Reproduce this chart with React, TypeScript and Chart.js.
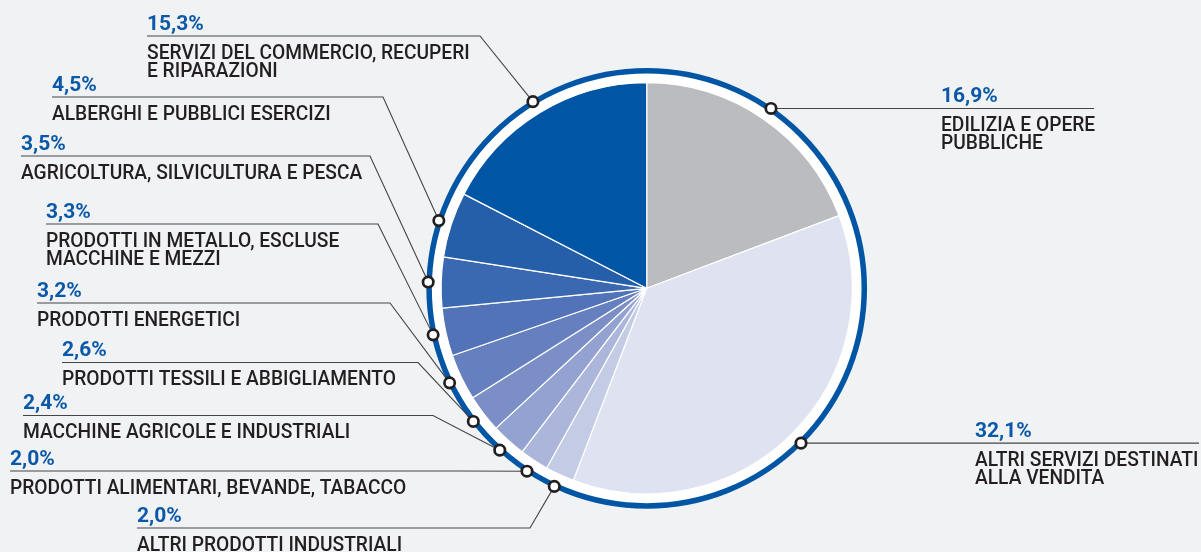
import React, { useEffect, useRef } from "react";
import { Chart, registerables } from "chart.js";

Chart.register(...registerables);

// ---- data (clockwise from 12 o'clock) ----
const categories: string[][] = [
  ["EDILIZIA E OPERE", "PUBBLICHE"],
  ["ALTRI SERVIZI DESTINATI", "ALLA VENDITA"],
  ["ALTRI PRODOTTI INDUSTRIALI"],
  ["PRODOTTI ALIMENTARI, BEVANDE, TABACCO"],
  ["MACCHINE AGRICOLE E INDUSTRIALI"],
  ["PRODOTTI TESSILI E ABBIGLIAMENTO"],
  ["PRODOTTI ENERGETICI"],
  ["PRODOTTI IN METALLO, ESCLUSE", "MACCHINE E MEZZI"],
  ["AGRICOLTURA, SILVICULTURA E PESCA"],
  ["ALBERGHI E PUBBLICI ESERCIZI"],
  ["SERVIZI DEL COMMERCIO, RECUPERI", "E RIPARAZIONI"],
];
const shares: number[] = [16.9, 32.1, 2.0, 2.0, 2.4, 2.6, 3.2, 3.3, 3.5, 4.5, 15.3];
const shareLabels: string[] = ["16,9%", "32,1%", "2,0%", "2,0%", "2,4%", "2,6%", "3,2%", "3,3%", "3,5%", "4,5%", "15,3%"];

// ---- styles ----
const sliceColors = [
  "#bbbcbf",
  "#dfe3f1",
  "#c4cbe5",
  "#abb6da",
  "#93a2d0",
  "#7b8fc6",
  "#6680bf",
  "#5273b8",
  "#3a69b1",
  "#255ea9",
  "#0055a4",
];
const BG = "#f1f2f4";
const RING = "#0055a4";
const INK = "#231f20";
const PCT = "#0a58a8";
const LINE = "#444444";

// ---- label layout (positions of annotation blocks) ----
type Lay = { side: "left" | "right"; textX: number; lineY?: number; elbowX?: number; endX?: number };
const labelLayout: Lay[] = [
  { side: "right", textX: 941, endX: 1094 },
  { side: "right", textX: 975, endX: 1199 },
  { side: "left", textX: 137, lineY: 528, elbowX: 530 },
  { side: "left", textX: 10, lineY: 471, elbowX: 457 },
  { side: "left", textX: 23, lineY: 415.5, elbowX: 433 },
  { side: "left", textX: 62, lineY: 362.5, elbowX: 418 },
  { side: "left", textX: 37, lineY: 303, elbowX: 390 },
  { side: "left", textX: 46, lineY: 224, elbowX: 378 },
  { side: "left", textX: 21, lineY: 156, elbowX: 370 },
  { side: "left", textX: 52, lineY: 97, elbowX: 383 },
  { side: "left", textX: 147, lineY: 36, elbowX: 480 },
];

const LABEL_FONT = "500 20px Roboto";
const LABEL_SX = 0.96;
const PCT_FONT = "700 21px Roboto";
const PCT_SX = 1.0;

function drawText(ctx: CanvasRenderingContext2D, s: string, x: number, y: number, font: string, color: string, sx: number) {
  ctx.save();
  ctx.font = font;
  ctx.fillStyle = color;
  ctx.textBaseline = "alphabetic";
  ctx.textAlign = "left";
  ctx.translate(x, y);
  ctx.scale(sx, 1);
  ctx.fillText(s, 0, 0);
  ctx.restore();
}

const decor = {
  id: "decor",
  beforeDraw(chart: any) {
    const ctx = chart.ctx as CanvasRenderingContext2D;
    ctx.save();
    ctx.fillStyle = BG;
    ctx.fillRect(0, 0, chart.width, chart.height);
    ctx.restore();
  },
  beforeDatasetsDraw(chart: any) {
    const ctx = chart.ctx as CanvasRenderingContext2D;
    const a = chart.getDatasetMeta(0).data[0] as any;
    ctx.save();
    ctx.beginPath();
    ctx.arc(a.x, a.y, a.outerRadius + 9.5, 0, Math.PI * 2);
    ctx.fillStyle = "#ffffff";
    ctx.fill();
    ctx.restore();
  },
  afterDatasetsDraw(chart: any) {
    const ctx = chart.ctx as CanvasRenderingContext2D;
    const arcs = chart.getDatasetMeta(0).data as any[];
    const cx = arcs[0].x;
    const cy = arcs[0].y;
    const R = arcs[0].outerRadius;
    const ringR = R + 12;

    ctx.save();
    ctx.beginPath();
    ctx.arc(cx, cy, ringR, 0, Math.PI * 2);
    ctx.strokeStyle = RING;
    ctx.lineWidth = 5.5;
    ctx.stroke();

    const markers: { x: number; y: number }[] = [];
    arcs.forEach((arc: any, i: number) => {
      const mid = (arc.startAngle + arc.endAngle) / 2;
      const mx = cx + Math.cos(mid) * (ringR + 1);
      const my = cy + Math.sin(mid) * (ringR + 1);
      markers.push({ x: mx, y: my });
      const lay = labelLayout[i];
      ctx.beginPath();
      ctx.strokeStyle = LINE;
      ctx.lineWidth = 1.1;
      let lineY: number;
      if (lay.side === "right") {
        lineY = my;
        ctx.moveTo(mx, my);
        ctx.lineTo(lay.endX as number, my);
      } else {
        lineY = lay.lineY as number;
        ctx.moveTo(lay.textX, lineY);
        ctx.lineTo(lay.elbowX as number, lineY);
        ctx.lineTo(mx, my);
      }
      ctx.stroke();

      drawText(ctx, shareLabels[i], lay.textX, lineY - 6.5, PCT_FONT, PCT, PCT_SX);
      categories[i].forEach((ln, k) => {
        drawText(ctx, ln, lay.textX, lineY + 22.5 + k * 18, LABEL_FONT, INK, LABEL_SX);
      });
    });

    markers.forEach((m) => {
      ctx.beginPath();
      ctx.arc(m.x, m.y, 5.2, 0, Math.PI * 2);
      ctx.fillStyle = "#ffffff";
      ctx.fill();
      ctx.lineWidth = 2.7;
      ctx.strokeStyle = INK;
      ctx.stroke();
    });
    ctx.restore();
  },
};

export default function App() {
  const ref = useRef<HTMLCanvasElement | null>(null);
  useEffect(() => {
    if (!ref.current) return;
    const chart = new Chart(ref.current, {
      type: "pie",
      data: {
        labels: categories.map((c) => c.join(" ")),
        datasets: [
          {
            data: shares,
            backgroundColor: sliceColors,
            borderColor: "#ffffff",
            borderWidth: 1.2,
          },
        ],
      },
      options: {
        animation: false,
        responsive: false,
        radius: 205.6,
        layout: { padding: { left: 100, right: 7.6, top: 30, bottom: 5.4 } },
        plugins: {
          legend: { display: false },
          tooltip: { enabled: false },
        },
      } as any,
      plugins: [decor],
    });
    return () => chart.destroy();
  }, []);
  return (
    <div style={{ width: 1201, height: 552, background: BG }}>
      <style>{`body{margin:0;background:${BG};}`}</style>
      <canvas ref={ref} width={1201} height={552} style={{ display: "block" }} />
    </div>
  );
}
